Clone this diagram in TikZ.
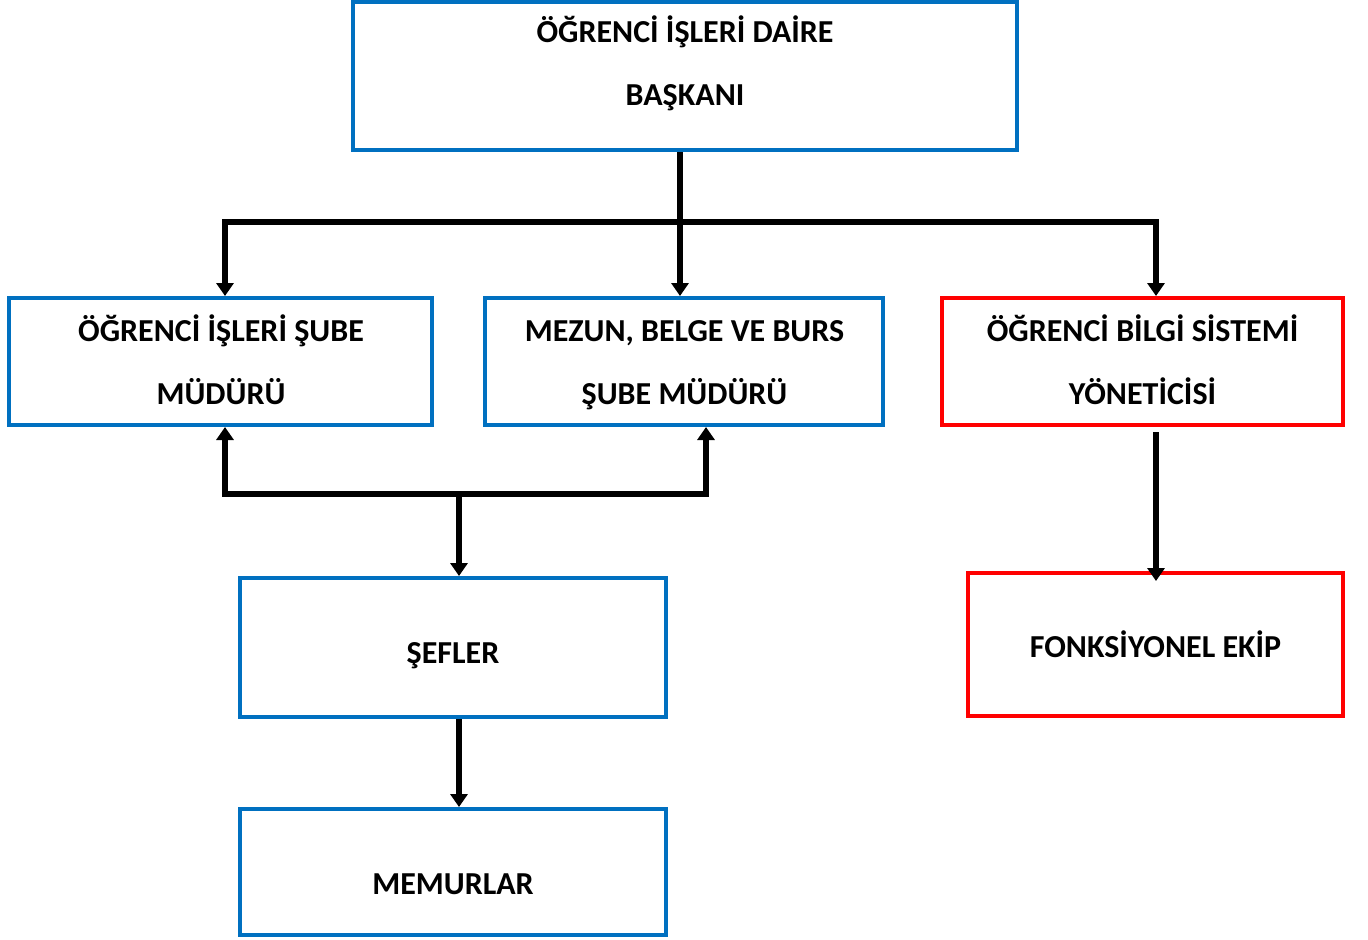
\documentclass[tikz,border=0pt]{standalone}
\usepackage{fontspec}
\setmainfont{Carlito}
\usetikzlibrary{arrows.meta}
\definecolor{obox}{HTML}{0070C0}
\definecolor{rbox}{HTML}{FF0000}
\tikzset{
  box/.style={draw=obox, line width=2pt, rectangle, inner sep=0pt},
  redbox/.style={box, draw=rbox},
  lbl/.style={font=\fontsize{16}{31.5}\selectfont\bfseries, align=center, inner sep=0pt},
  conn/.style={line width=3pt, line join=miter},
  arr/.style={conn, -{Triangle[width=8.5pt,length=6.5pt]}},
  darr/.style={conn, {Triangle[width=8.5pt,length=6.5pt]}-{Triangle[width=8.5pt,length=6.5pt]}}
}
\begin{document}
\begin{tikzpicture}[x=0.5pt,y=-0.5pt]
\useasboundingbox (0,0) rectangle (1368,939);
% boxes
\node[box, minimum width=332pt, minimum height=74pt] (top) at (685,76) {};
\node[lbl] (toptxt) at (685,61) {\strut ÖĞRENCİ İŞLERİ DAİRE\\\strut BAŞKANI};
\node[box, minimum width=211.5pt, minimum height=63.5pt] (A) at (220.5,361.5) {};
\node[lbl] (Atxt) at (221,360) {\strut ÖĞRENCİ İŞLERİ ŞUBE\\\strut MÜDÜRÜ};
\node[box, minimum width=199pt, minimum height=63.5pt] (B) at (684,361.5) {};
\node[lbl] (Btxt) at (684.5,360) {\strut MEZUN, BELGE VE BURS\\\strut ŞUBE MÜDÜRÜ};
\node[redbox, minimum width=200.5pt, minimum height=63.5pt] (C) at (1142.5,361.5) {};
\node[lbl] (Ctxt) at (1142.5,360) {\strut ÖĞRENCİ BİLGİ SİSTEMİ\\\strut YÖNETİCİSİ};
\node[box, minimum width=213pt, minimum height=69.5pt] (S) at (453,647.5) {};
\node[lbl] (Stxt) at (453,650.5) {\strut ŞEFLER};
\node[box, minimum width=213pt, minimum height=63pt] (M) at (453,872) {};
\node[lbl] (Mtxt) at (453,881.5) {\strut MEMURLAR};
\node[redbox, minimum width=187.5pt, minimum height=71.5pt] (F) at (1155.5,644.5) {};
\node[lbl] (Ftxt) at (1155.5,644.5) {\strut FONKSİYONEL EKİP};
% connector junctions
\coordinate (tx) at (680,222);
\coordinate (hl) at (225,222);
\coordinate (hr) at (1156,222);
\coordinate (bl) at (225,494);
\coordinate (br) at (706,494);
\coordinate (bm) at (459,494);
\coordinate (rs) at (1156,432);
\coordinate (re) at (1156,581);
\coordinate (sm) at (459,0);
% connectors
\draw[arr] (top.south -| tx) -- (B.north -| tx);
\draw[darr] (A.north -| hl) -- (hl) -- (hr) -- (C.north -| hr);
\draw[darr] (A.south -| bl) -- (bl) -- (br) -- (B.south -| br);
\draw[arr] (bm) -- (S.north -| bm);
\draw[arr] (rs) -- (re);
\draw[arr] (S.south -| sm) -- (M.north -| sm);
\end{tikzpicture}
\end{document}
